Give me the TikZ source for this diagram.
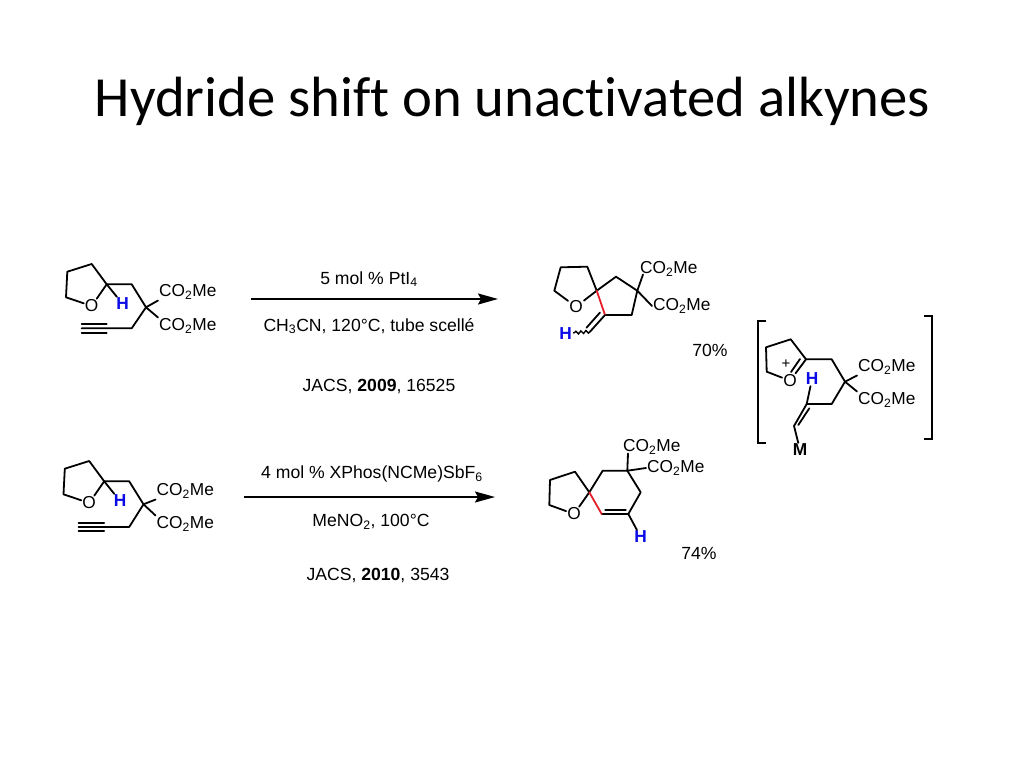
\documentclass[tikz,border=0pt]{standalone}
\usepackage{fontspec}
\setmainfont{Liberation Sans}
\newfontfamily\titlefont[Ligatures=NoCommon]{Carlito}
\usetikzlibrary{arrows.meta,decorations.pathmorphing}
\tikzset{
  bond/.style={line width=1.8pt,line join=round,line cap=round},
  redbond/.style={bond,draw={rgb,255:red,230;green,30;blue,40}},
  reacarrow/.style={line width=1.8pt,-{Stealth[length=20pt,width=11pt,inset=3pt]}},
  brack/.style={line width=1.9pt},
  atom/.style={inner sep=1pt,font=\fontsize{17.3}{20}\selectfont},
  group/.style={inner sep=1pt,anchor=west,font=\fontsize{17.3}{20}\selectfont},
  hyd/.style={inner sep=1pt,font=\fontsize{17.3}{20}\selectfont\bfseries,text={rgb,255:red,10;green,10;blue,230}},
  txt/.style={inner sep=0pt,font=\fontsize{17.6}{20}\selectfont}
}
\newcommand{\cotwo}{CO\textsubscript{2}Me}
\begin{document}
\begin{tikzpicture}[x=1pt,y=-1pt]
  \useasboundingbox (0,0) rectangle (1024,768);

  \node[inner sep=0pt,font=\fontsize{56.7}{60}\selectfont\titlefont] (title) at (512.5,101) {Hydride shift on unactivated alkynes};

  % substrate 1
  \node[atom] (oa) at (91.7,306) {O};
  \node[hyd] (ha) at (122.7,304) {H};
  \node[group] (ea1) at (158,292) {\cotwo};
  \node[group] (ea2) at (158,326) {\cotwo};
  \coordinate (a1) at (66,297.3); \coordinate (a2) at (67.3,271.7);
  \coordinate (a3) at (91.7,264); \coordinate (a4) at (106.7,284.3);
  \coordinate (a5) at (131.7,284.3); \coordinate (a6) at (146,307.3);
  \coordinate (a7) at (131.7,328.3); \coordinate (a8) at (106.7,328.3);
  \coordinate (a9) at (81.7,328.3);
  \draw[bond] (oa) -- (a1) -- (a2) -- (a3) -- (a4) -- (oa);
  \draw[bond] (a4) -- (a5) -- (a6) -- (a7) -- (a8) -- (a9);
  \draw[bond] (a4) -- (ha);
  \draw[bond] (a6) -- (ea1.south west);
  \draw[bond] (a6) -- (ea2.north west);
  \draw[bond] ([yshift=-4.3pt]a8) -- ([yshift=-4.3pt]a9);
  \draw[bond] ([yshift=4.3pt]a8) -- ([yshift=4.3pt]a9);

  % first reaction
  \coordinate (ra1) at (251,299);
  \coordinate (ra2) at (498,299);
  \draw[reacarrow] (ra1) -- (ra2);
  \node[txt] (ta1) at (369,279) {5 mol \% PtI\textsubscript{4}};
  \node[txt] (ta2) at (369,326) {CH\textsubscript{3}CN, 120°C, tube scellé};
  \node[txt] (ta3) at (379,386) {JACS, \textbf{2009}, 16525};

  % product 1
  \node[atom] (ob) at (576,306.7) {O};
  \node[hyd] (hb) at (565.7,333.3) {H};
  \node[group] (eb1) at (639,269) {\cotwo};
  \node[group] (eb2) at (652,306) {\cotwo};
  \node[txt] (yb) at (710,350) {70\%};
  \coordinate (b1) at (554.3,290.7); \coordinate (b2) at (560.7,267.3);
  \coordinate (b3) at (587.3,266.7); \coordinate (b4) at (596.7,290.7);
  \coordinate (b5) at (616,276.7); \coordinate (b6) at (637.3,290.7);
  \coordinate (b7) at (631.7,315); \coordinate (b8) at (605,315);
  \coordinate (b9) at (590,331.7);
  \draw[bond] (ob) -- (b1) -- (b2) -- (b3) -- (b4) -- (ob);
  \draw[bond] (b4) -- (b5) -- (b6) -- (b7) -- (b8);
  \draw[redbond] (b4) -- (b8);
  \draw[bond] (b8) -- (b9);
  \draw[bond] ([shift={(-5,-2.5)}]b8) -- ([shift={(-3.5,-4)}]b9);
  \draw[line width=1.4pt,decorate,decoration={snake,amplitude=1.4pt,segment length=5pt}] (b9) -- (hb);
  \draw[bond] (b6) -- ([xshift=4pt,yshift=3pt]eb1.south west);
  \draw[bond] (b6) -- (eb2.west);

  % intermediate
  \coordinate (k1) at (766,320.7); \coordinate (k2) at (758.3,320.7);
  \coordinate (k3) at (758.3,442.7); \coordinate (k4) at (766,442.7);
  \coordinate (k5) at (924,316); \coordinate (k6) at (931.7,316);
  \coordinate (k7) at (931.7,439.3); \coordinate (k8) at (924,439.3);
  \draw[brack] (k1) -- (k2) -- (k3) -- (k4);
  \draw[brack] (k5) -- (k6) -- (k7) -- (k8);
  \node[atom] (oc) at (790,380.7) {O};
  \node[atom,font=\fontsize{15}{15}\selectfont] (pc) at (786,364.3) {+};
  \node[hyd] (hc) at (812,379) {H};
  \node[hyd,text=black] (mc) at (800,450) {M};
  \node[group] (ec1) at (857,367) {\cotwo};
  \node[group] (ec2) at (857,400) {\cotwo};
  \coordinate (c1) at (766.7,371.7); \coordinate (c2) at (766,347.3);
  \coordinate (c3) at (790.7,339.3); \coordinate (c4) at (806,359.3);
  \coordinate (c5) at (831.7,359.3); \coordinate (c6) at (845,381.7);
  \coordinate (c7) at (831.7,404); \coordinate (c8) at (806.7,404);
  \coordinate (c9) at (794,426); \coordinate (c10) at (800,359);
  \coordinate (c11) at (791,372);
  \draw[bond] (oc) -- (c1) -- (c2) -- (c3) -- (c4) -- (oc);
  \draw[bond] (c10) -- (c11);
  \draw[bond] (c4) -- (c5) -- (c6) -- (c7) -- (c8) -- (c9) -- (mc);
  \draw[bond] ([shift={(2.6,4.3)}]c8) -- ([shift={(4.3,-1)}]c9);
  \draw[bond] (c8) -- (hc);
  \draw[bond] (c6) -- (ec1.south west);
  \draw[bond] (c6) -- (ec2.north west);

  % substrate 2
  \node[atom] (od) at (89.2,503) {O};
  \node[hyd] (hd) at (120,501) {H};
  \node[group] (ed1) at (155.5,491) {\cotwo};
  \node[group] (ed2) at (155.5,524) {\cotwo};
  \coordinate (d1) at (63.5,494.3); \coordinate (d2) at (64.8,468.7);
  \coordinate (d3) at (89.2,461); \coordinate (d4) at (104.2,481.3);
  \coordinate (d5) at (129.2,481.3); \coordinate (d6) at (143.5,504.3);
  \coordinate (d7) at (129.2,527); \coordinate (d8) at (104.2,527);
  \coordinate (d9) at (78.5,527);
  \draw[bond] (od) -- (d1) -- (d2) -- (d3) -- (d4) -- (od);
  \draw[bond] (d4) -- (d5) -- (d6) -- (d7) -- (d8) -- (d9);
  \draw[bond] (d4) -- (hd);
  \draw[bond] (d6) -- (ed1.south west);
  \draw[bond] (d6) -- (ed2.north west);
  \draw[bond] ([yshift=-4.3pt]d8) -- ([yshift=-4.3pt]d9);
  \draw[bond] ([yshift=4.3pt]d8) -- ([yshift=4.3pt]d9);

  % second reaction
  \coordinate (re1) at (244,497);
  \coordinate (re2) at (495,497);
  \draw[reacarrow] (re1) -- (re2);
  \node[txt] (te1) at (372,474) {4 mol \% XPhos(NCMe)SbF\textsubscript{6}};
  \node[txt] (te2) at (371,522) {MeNO\textsubscript{2}, 100°C};
  \node[txt] (te3) at (378,575) {JACS, \textbf{2010}, 3543};

  % product 2
  \node[atom] (of) at (574,514) {O};
  \node[hyd] (hf) at (640.7,537) {H};
  \node[group] (ef1) at (622,447) {\cotwo};
  \node[group] (ef2) at (646,468) {\cotwo};
  \node[txt] (yf) at (699,553) {74\%};
  \coordinate (f1) at (549.3,505); \coordinate (f2) at (550,480);
  \coordinate (f3) at (575,471.7); \coordinate (f4) at (589.3,492.3);
  \coordinate (f5) at (602.7,470.7); \coordinate (f6) at (627.3,470.7);
  \coordinate (f7) at (640.7,492.3); \coordinate (f8) at (628.3,514);
  \coordinate (f9) at (601.7,514);
  \draw[bond] (of) -- (f1) -- (f2) -- (f3) -- (f4) -- (of);
  \draw[bond] (f4) -- (f5) -- (f6) -- (f7) -- (f8) -- (f9);
  \draw[redbond] (f4) -- (f9);
  \draw[bond] ([shift={(3.5,-4)}]f9) -- ([shift={(-2.5,-4)}]f8);
  \draw[bond] (f8) -- (hf);
  \draw[bond] (f6) -- ([xshift=6pt,yshift=2pt]ef1.south west);
  \draw[bond] (f6) -- (ef2.west);
\end{tikzpicture}
\end{document}
